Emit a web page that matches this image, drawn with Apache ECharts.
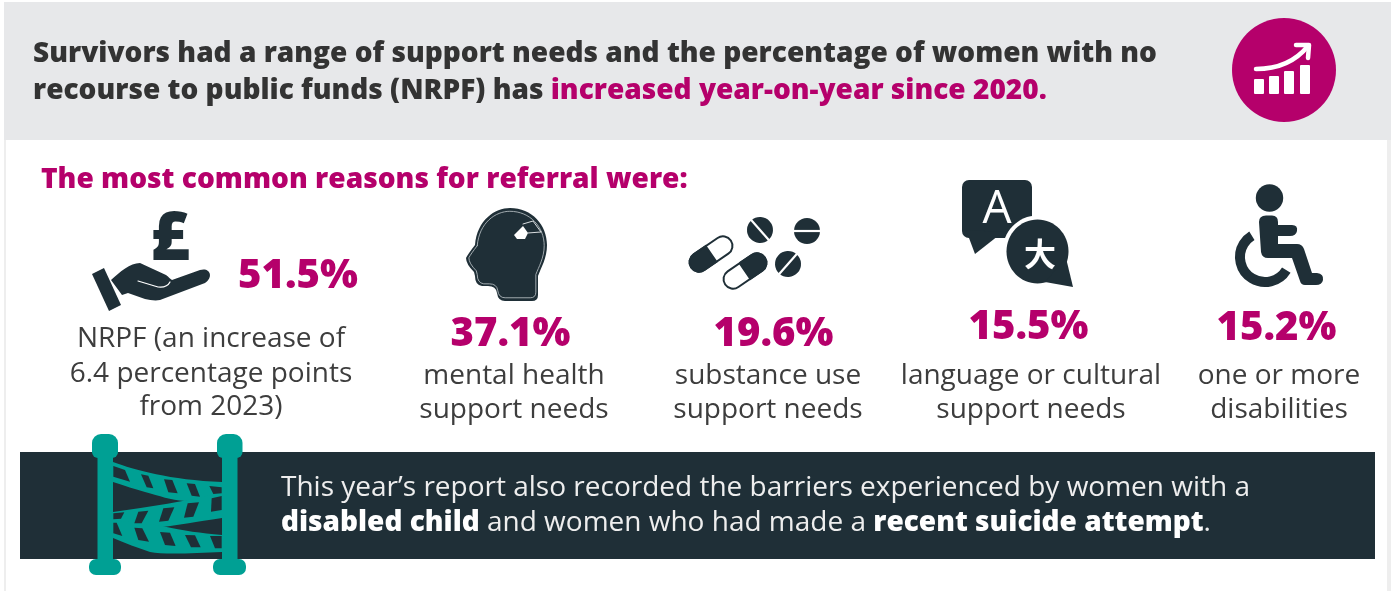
<!DOCTYPE html>
<html>
<head>
<meta charset="utf-8">
<style>
html, body { margin: 0; padding: 0; background: #fff; }
#main { width: 1391px; height: 591px; }
</style>
<script src="https://cdn.jsdelivr.net/npm/echarts@6/dist/echarts.min.js"></script>
</head>
<body>
<div id="main"></div>
<script>
var headline = [
    'Survivors had a range of support needs and the percentage of women with no',
    'recourse to public funds (NRPF) has {m|increased year-on-year since 2020.}'
];
var subhead = 'The most common reasons for referral were:';
var reasonValues = [51.5, 37.1, 19.6, 15.5, 15.2];
var reasonLabels = [
    ['NRPF (an increase of', '6.4 percentage points', 'from 2023)'],
    ['mental health', 'support needs'],
    ['substance use', 'support needs'],
    ['language or cultural', 'support needs'],
    ['one or more', 'disabilities']
];
var bannerLines = [
    'This year\u2019s report also recorded the barriers experienced by women with a',
    '{b|disabled child} and women who had made a {b|recent suicide attempt}.'
];

var magenta = '#b5006b';
var ink = '#1f2f37';
var teal = '#00a094';
var font = '"Open Sans"';

var valueX = [238, 510.5, 773.5, 1028.5, 1276.5];
var valueY = [275, 333, 333, 326, 327];
var labelX = [211, 514, 768, 1031, 1279];
var labelY = [[337, 372, 405], [374, 408], [374, 408], [374, 408], [374, 408]];

var els = [];
var pathCount = 0;

function rect(x, y, w, h, fill, r) {
    els.push({ type: 'rect', shape: { x: x, y: y, width: w, height: h, r: r || 0 }, style: { fill: fill } });
}
// graphic has no plain path type here, so each path gets registered as a shape
function path(d, fill, stroke, lineWidth, extra) {
    var name = 'iconPath' + (pathCount++);
    echarts.graphic.registerShape(name, echarts.graphic.extendPath(d, {}));
    var el = { type: name, style: { fill: fill || 'none', stroke: stroke || 'none', lineWidth: lineWidth || 0, lineCap: 'round', lineJoin: 'round' } };
    for (var k in extra) el[k] = extra[k];
    els.push(el);
}
// middle-aligned text sits about 2px high in this font
function text(str, x, y, size, weight, color, align, rich) {
    els.push({
        type: 'text', x: x, y: y + 2,
        style: { text: str, font: weight + ' ' + size + 'px ' + font, fill: color, align: align || 'left', verticalAlign: 'middle', rich: rich }
    });
}

// capsule with one solid half
function capsule(cx, cy, solidLeft) {
    var L = 48, T = 19;
    els.push({
        type: 'group', x: cx, y: cy, rotation: 0.6,
        children: [
            { type: 'rect', shape: { x: -L / 2, y: -T / 2, width: L, height: T, r: T / 2 }, style: { fill: '#fff', stroke: ink, lineWidth: 2 } },
            { type: 'rect', shape: { x: solidLeft ? -L / 2 : 0, y: -T / 2, width: L / 2, height: T, r: solidLeft ? [T / 2, 0, 0, T / 2] : [0, T / 2, T / 2, 0] }, style: { fill: ink, stroke: ink, lineWidth: 2 } }
        ]
    });
}
function tablet(cx, cy, rot) {
    els.push({
        type: 'group', x: cx, y: cy, rotation: rot,
        children: [
            { type: 'circle', shape: { cx: 0, cy: 0, r: 13 }, style: { fill: ink } },
            { type: 'rect', shape: { x: -14, y: -1.1, width: 28, height: 2.2 }, style: { fill: '#fff' } }
        ]
    });
}

// backgrounds
rect(0, 0, 1391, 591, '#ffffff');
rect(4, 2, 1387, 138, '#e7e8ea');
rect(4, 140, 2, 451, '#eeeeee');
rect(1387, 140, 4, 451, '#eeeeee');

// header
text(headline[0], 33, 52, 28.05, 800, '#333333');
text(headline[1], 33, 89, 28.05, 800, '#333333', 'left', { m: { font: '800 28.05px ' + font, fill: magenta } });
els.push({ type: 'circle', shape: { cx: 1284, cy: 70, r: 52 }, style: { fill: magenta } });
rect(1254, 79, 10, 15, '#fff', 1);
rect(1269, 76, 10, 18, '#fff', 1);
rect(1284, 71, 10, 23, '#fff', 1);
rect(1300, 65, 10, 29, '#fff', 1);
path('M1256,69 C1278,69 1295,62 1308,46', null, '#fff', 4.5);
path('M1296,45 L1309,45 L1308,58', null, '#fff', 4.5);

text(subhead, 41, 178, 28.1, 800, magenta);

// hand and pound
text('\u00a3', 170, 239, 68, 800, ink, 'center');
els.push({ type: 'polygon', shape: { points: [[92, 274], [104, 268], [121, 305], [109, 311]] }, style: { fill: ink } });
path('M111,280 C120,272 130,263 140,263 L166,275 C169,277 170,279 172,280 L200,270 C210,267 214,277 205,283 L160,300 C155,301 150,300 145,299 L128,293 L122,295 Z', ink);
path('M138,281 L158,287 Q167,288 170,282', null, '#fff', 1.2);

// head
var headPath = 'M475,245 C477,220 495,208 510,208 C532,208 547,225 547,245 C547,258 541,268 538,276 L538,295 Q538,301 532,301 L505,301 Q498,301 497,293 Q496,286 488,286 L482,286 Q475,285 475,276 L474,272 Q466,264 466,258 Q468,254 475,245 Z';
path(headPath, ink);
path(headPath, null, '#aab3b7', 1, { scaleX: 0.93, scaleY: 0.93, originX: 507, originY: 255 });
els.push({ type: 'polygon', shape: { points: [[514, 235], [523, 226], [528, 233], [525, 239], [517, 239]] }, style: { fill: '#fff' } });
path('M523,224 L533,221 L541,232', null, '#d9dddf', 1);
path('M528,233 L541,232', null, '#d9dddf', 1);

// pills
capsule(711, 254, true);
capsule(745, 271, false);
tablet(760, 230, -0.85);
tablet(807, 231, 0);
tablet(788, 264, 0.85);

// speech bubbles
rect(962, 180, 70, 58, ink, 7);
els.push({ type: 'polygon', shape: { points: [[966, 230], [975, 254], [1003, 232]] }, style: { fill: ink } });
text('A', 997, 208, 46, 500, '#fff', 'center');
els.push({ type: 'ellipse', shape: { cx: 1037.5, cy: 251.5, rx: 35, ry: 36 }, style: { fill: '#fff' } });
els.push({ type: 'ellipse', shape: { cx: 1037.5, cy: 251.5, rx: 31, ry: 32 }, style: { fill: ink } });
els.push({ type: 'polygon', shape: { points: [[1066, 258], [1073, 287], [1045, 282]] }, style: { fill: ink } });
els.push({ type: 'text', x: 1040, y: 254, style: { text: '\u5927', font: '700 32px "Noto Sans CJK SC"', fill: '#fff', align: 'center', verticalAlign: 'middle' } });

// wheelchair
els.push({ type: 'circle', shape: { cx: 1269.5, cy: 198, r: 13.7 }, style: { fill: ink } });
path('M1259,222 Q1259,215.5 1266,215.5 L1272,215.5 Q1278,215.5 1278,222 L1278,225 L1292,225 Q1298,225 1297,231 Q1296,236 1290,236 L1278,236 L1278,244 L1297,244 Q1302,244 1304,249 L1312,273 L1317,273 Q1324,274 1323,280 Q1322,285 1316,285 L1305,285 Q1301,285 1300,281 L1292,258 L1268,258 Q1262,258 1261,252 Z', ink);
els.push({ type: 'arc', shape: { cx: 1265, cy: 257, r: 25, startAngle: 0.55, endAngle: 4.16, clockwise: true }, style: { fill: 'none', stroke: ink, lineWidth: 10 } });

// percent values and labels
for (var i = 0; i < reasonValues.length; i++) {
    var vs = reasonValues[i].toFixed(1) + '%';
    text(vs, valueX[i], valueY[i], 40, 800, magenta, i === 0 ? 'left' : 'center');
    for (var j = 0; j < reasonLabels[i].length; j++) {
        text(reasonLabels[i][j], labelX[i], labelY[i][j], 28, 400, '#3d3d3d', 'center');
    }
}

// banner
rect(20, 452, 1355, 107, ink);
text(bannerLines[0], 281, 486, 28, 400, '#eeeeee');
text(bannerLines[1], 281, 521, 28, 400, '#eeeeee', 'left', { b: { font: '800 28px ' + font, fill: '#ffffff' } });

// tape
path('M113,462 C135,470 170,480 222,482 L222,497 L185,501 C170,500 160,496 145,492 C135,489 125,486 113,482 Z', teal);
path('M113,512 C150,507 185,501 222,493 L222,518 C195,522 180,525 162,527 L113,522 Z', teal);
path('M113,520 L162,526 C185,531 200,533 222,535 L222,552 C195,553 165,555 150,552 C138,548 125,543 113,538 Z', teal);

var tapeSlashes = [
    [[85, 108], [120, 120], [135, 155], [85, 140]],
    [[168, 133], [190, 137], [205, 175], [185, 172]],
    [[237, 148], [262, 150], [278, 190], [250, 187]],
    [[305, 160], [330, 162], [345, 200], [320, 197]],
    [[373, 168], [410, 172], [410, 190], [385, 192]],
    [[380, 205], [410, 198], [410, 240], [378, 245]],
    [[308, 220], [342, 217], [325, 260], [297, 263]],
    [[235, 235], [268, 232], [250, 272], [222, 275]],
    [[160, 245], [190, 242], [170, 280], [148, 280]],
    [[85, 250], [118, 247], [108, 266], [85, 268]],
    [[85, 278], [95, 278], [112, 318], [85, 310]],
    [[148, 293], [172, 295], [192, 335], [160, 330]],
    [[225, 306], [255, 308], [272, 348], [240, 345]],
    [[300, 315], [330, 316], [347, 352], [318, 352]],
    [[375, 318], [410, 318], [410, 355], [390, 355]]
];
var slashEls = [];
for (var s = 0; s < tapeSlashes.length; s++) {
    slashEls.push({ type: 'polygon', shape: { points: tapeSlashes[s] }, style: { fill: ink } });
}
els.push({ type: 'group', x: 85, y: 430, scaleX: 1 / 3, scaleY: 1 / 3, children: slashEls });

// posts
rect(97.5, 456, 15.5, 106, teal);
rect(92, 434, 26, 24, teal, [9, 9, 6, 6]);
rect(89, 559, 32, 16, teal, 7);
rect(222, 456, 15.5, 106, teal);
rect(217, 434, 25.5, 24, teal, [9, 9, 6, 6]);
rect(213, 559, 33, 16, teal, 7);

var myChart = echarts.init(document.getElementById('main'), null, { renderer: 'canvas' });
myChart.setOption({
    animation: false,
    backgroundColor: '#fff',
    graphic: { elements: els }
});
</script>
</body>
</html>
